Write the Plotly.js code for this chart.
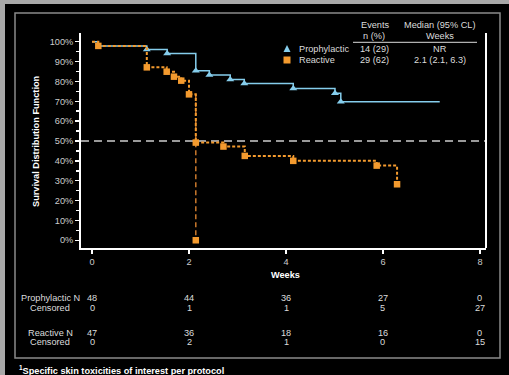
<!DOCTYPE html>
<html>
<head>
<meta charset="utf-8">
<script src="https://cdn.plot.ly/plotly-3.0.1.min.js"></script>
<style>
  html, body { margin: 0; padding: 0; background: #a8a8a8; width: 509px; height: 375px; overflow: hidden; }
  #chart { position: absolute; left: 5px; top: 4px; width: 504px; height: 371px; }
</style>
</head>
<body>
<div id="chart"></div>
<script>
// ---- data ----
const protoTime = [0, 0.12, 1.13, 1.55, 2.14, 2.42, 2.85, 3.14, 4.15, 5.01, 5.13, 7.17];
const protoSurv = [1.0, 0.979, 0.961, 0.941, 0.854, 0.832, 0.810, 0.789, 0.765, 0.740, 0.698, 0.698];
const protoMarkTime = [1.13, 1.55, 2.14, 2.42, 2.85, 3.14, 4.15, 5.01, 5.13];
const protoMarkSurv = [0.961, 0.941, 0.854, 0.832, 0.810, 0.789, 0.765, 0.740, 0.698];

const reactTime = [0, 0.13, 1.13, 1.54, 1.69, 1.84, 2.00, 2.14, 2.71, 3.15, 4.15, 5.87, 6.29];
const reactSurv = [1.0, 0.979, 0.871, 0.849, 0.824, 0.804, 0.735, 0.492, 0.472, 0.425, 0.400, 0.376, 0.282];
const reactDropTime = [2.14, 2.14];
const reactDropSurv = [0.735, 0.0];

const riskWeeks = [0, 2, 4, 6, 8];
const protoN = [48, 44, 36, 27, 0];
const protoCens = [0, 1, 1, 5, 27];
const reactN = [47, 36, 18, 16, 0];
const reactCens = [0, 2, 1, 0, 15];

const legendNames = ['Prophylactic', 'Reactive'];
const legendEvents = ['14 (29)', '29 (62)'];
const legendMedian = ['NR', '2.1 (2.1, 6.3)'];

// ---- styles ----
const FONT = 'Liberation Sans, Arial, sans-serif';
const BLUE = '#85cdec';
const ORANGE = '#f39a2e';
const TXT = '#dcdcdc';
const FS = 9.2;

const traces = [
  { x: [-0.227, 8.124], y: [0.5, 0.5], mode: 'lines', line: { color: '#9a9a9a', width: 2, dash: '8px,5px' }, hoverinfo: 'skip' },
  { x: protoTime, y: protoSurv, mode: 'lines', line: { color: BLUE, width: 1.5, shape: 'hv' } },
  { x: protoMarkTime, y: protoMarkSurv, mode: 'markers', marker: { symbol: 'triangle-up', size: 7, color: BLUE } },
  { x: reactDropTime, y: reactDropSurv, mode: 'lines', line: { color: '#c9782c', width: 1.5, dash: '5px,3px' } },
  { x: reactTime, y: reactSurv, mode: 'lines', line: { color: ORANGE, width: 2, shape: 'hv', dash: '3px,2px' } },
  { x: reactTime.slice(1).concat([reactDropTime[1]]), y: reactSurv.slice(1).concat([reactDropSurv[1]]), mode: 'markers', marker: { symbol: 'square', size: 6.5, color: ORANGE } }
];

// page coords helpers (plot area: left 81, right 486, top 33, bottom 248 in page px)
const px = X => (X - 81) / 405;
const py = Y => (248 - Y) / 215;

const ann = [];
function txt(text, x, y, opts) {
  ann.push(Object.assign({ text: text, x: x, y: y, xref: 'paper', yref: 'paper', showarrow: false,
    xanchor: 'center', yanchor: 'middle', font: { family: FONT, size: FS, color: TXT } }, opts || {}));
}
// legend table
txt('Events', px(375), py(25));
txt('n (%)', px(374), py(35.7));
txt('Median (95% CL)', px(440), py(25));
txt('Weeks', px(440), py(35.7));
[49, 60].forEach((Y, i) => {
  txt(legendNames[i], px(296.5), py(Y), { xanchor: 'left' });
  txt(legendEvents[i], px(374), py(Y));
  txt(legendMedian[i], px(440), py(Y));
});
// axis titles
txt('<b>Survival Distribution Function</b>', px(36), py(141), { textangle: -90, font: { family: FONT, size: FS, color: '#ffffff' } });
txt('<b>Weeks</b>', px(285), py(275), { font: { family: FONT, size: FS, color: '#ffffff' } });
// risk table
txt('Prophylactic N', px(50), py(298));
txt('Censored', px(49.5), py(307.5));
txt('Reactive N', px(50), py(332.5));
txt('Censored', px(49.5), py(342));
riskWeeks.forEach((w, i) => {
  const o = { xref: 'x' };
  txt(String(protoN[i]), w, py(298), o);
  txt(String(protoCens[i]), w, py(307.5), o);
  txt(String(reactN[i]), w, py(332.5), o);
  txt(String(reactCens[i]), w, py(342), o);
});
// footnote
txt('<b><sup>1</sup>Specific skin toxicities of interest per protocol</b>', px(16.5), py(370), { xanchor: 'left', font: { family: FONT, size: FS, color: '#ffffff' } });

const shapes = [
  // inner frame
  { type: 'rect', xref: 'paper', yref: 'paper', x0: px(15), x1: px(500), y0: py(358), y1: py(13), line: { color: '#8a8a8a', width: 1.5 } },
  // right axis line
  { type: 'line', xref: 'paper', yref: 'paper', x0: 1, x1: 1, y0: 0, y1: 1, line: { color: '#ffffff', width: 2 } },
  // legend underline
  { type: 'line', xref: 'paper', yref: 'paper', x0: px(353), x1: px(477), y0: py(42.3), y1: py(42.3), line: { color: '#dcdcdc', width: 1 } },
  // legend markers
  { type: 'path', xref: 'paper', yref: 'paper', xsizemode: 'pixel', ysizemode: 'pixel', xanchor: px(287), yanchor: py(49),
    path: 'M-3.5,-3 L3.5,-3 L0,4 Z', fillcolor: BLUE, line: { width: 0 } },
  { type: 'rect', xref: 'paper', yref: 'paper', xsizemode: 'pixel', ysizemode: 'pixel', xanchor: px(287), yanchor: py(60),
    x0: -3.5, x1: 3.5, y0: -3.5, y1: 3.5, fillcolor: ORANGE, line: { width: 0 } }
];

const layout = {
  width: 504, height: 371,
  margin: { l: 76, r: 23, t: 29, b: 127 },
  paper_bgcolor: '#000000', plot_bgcolor: '#000000',
  showlegend: false,
  font: { family: FONT, size: FS, color: TXT },
  xaxis: {
    range: [-0.227, 8.124], tickvals: riskWeeks, ticks: 'outside', ticklen: 4, tickwidth: 1.5, tickcolor: '#ffffff',
    showline: true, linecolor: '#ffffff', linewidth: 2, showgrid: false, zeroline: false,
    tickfont: { family: FONT, size: FS, color: '#cccccc' }
  },
  yaxis: {
    range: [-0.039, 1.044], tickmode: 'linear', tick0: 0, dtick: 0.1, tickformat: '.0%',
    ticks: 'outside', ticklen: 4, tickwidth: 1.5, tickcolor: '#ffffff',
    minor: { dtick: 0.05, tick0: 0, ticks: 'outside', ticklen: 3, tickwidth: 1.5, tickcolor: '#ffffff' },
    showline: true, linecolor: '#ffffff', linewidth: 2, showgrid: false, zeroline: false,
    tickfont: { family: FONT, size: FS, color: '#cccccc' }
  },
  annotations: ann,
  shapes: shapes
};

Plotly.newPlot('chart', traces, layout, { staticPlot: true, displayModeBar: false });
</script>
</body>
</html>
